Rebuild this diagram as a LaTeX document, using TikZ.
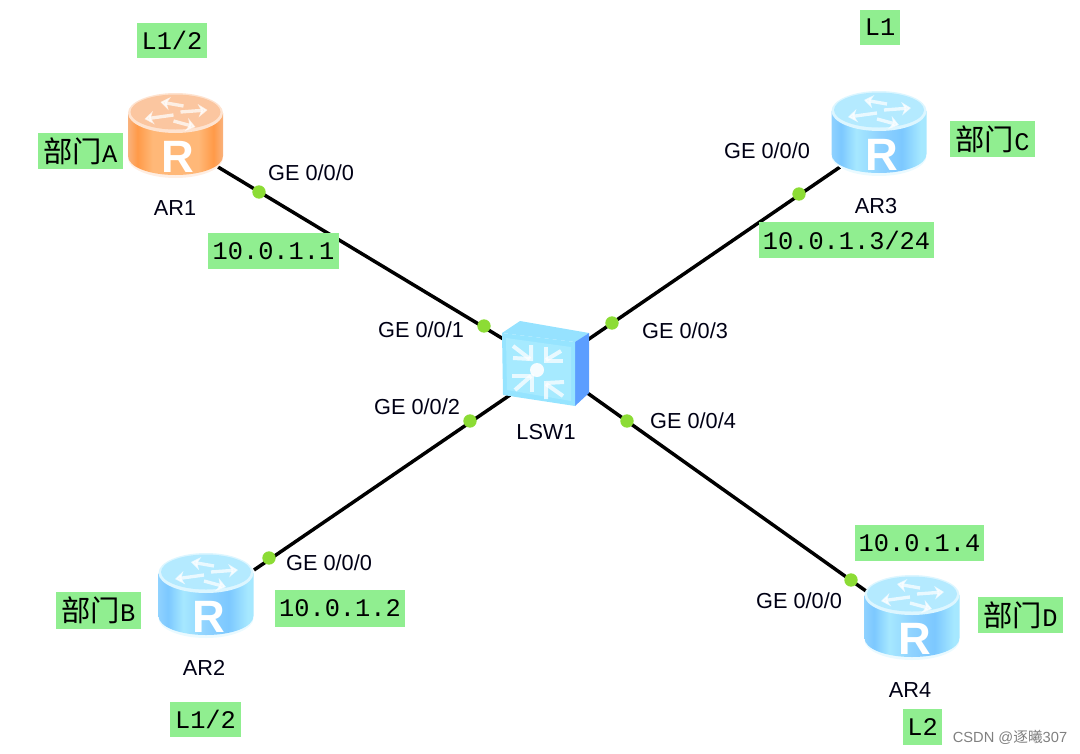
\documentclass[tikz,border=0pt]{standalone}
\usepackage{fontspec}
\setmainfont{Liberation Sans}
\newfontfamily\tagmono{Liberation Mono}
\newfontfamily\cjkfont{Noto Sans CJK SC}
\usetikzlibrary{arrows.meta}
\definecolor{taggreen}{HTML}{90EE90}
\definecolor{dotgreen}{HTML}{8CDC35}
\definecolor{oe}{HTML}{F9B27C}\definecolor{os}{HTML}{FF9A48}\definecolor{om}{HTML}{FFB878}
\definecolor{be}{HTML}{8FD2FF}\definecolor{bs}{HTML}{7CC8FF}\definecolor{bm}{HTML}{A6E8FF}
\definecolor{otop}{HTML}{FBC6A0}\definecolor{orim}{HTML}{FEE3D0}
\definecolor{btop}{HTML}{B4EAFF}\definecolor{brim}{HTML}{DDF6FF}
\definecolor{swtop}{HTML}{96E2FF}\definecolor{swside}{HTML}{5C9EFF}\definecolor{swedge}{HTML}{96E4FF}\definecolor{swface}{HTML}{A6EAFF}
\pgfdeclarehorizontalshading{orside}{100bp}{color(0bp)=(oe);color(25bp)=(oe);color(30bp)=(os);color(38bp)=(om);color(50bp)=(om);color(62bp)=(om);color(70bp)=(os);color(75bp)=(oe);color(100bp)=(oe)}
\pgfdeclarehorizontalshading{blside}{100bp}{color(0bp)=(be);color(25bp)=(be);color(30bp)=(bs);color(38bp)=(bm);color(50bp)=(be);color(62bp)=(bs);color(72bp)=(bm);color(75bp)=(bm);color(100bp)=(bm)}
\tikzset{
  x=0.75pt,y=-0.75pt,
  link/.style={line width=2.6pt,black},
  portdot/.style={circle,fill=dotgreen,inner sep=0pt,minimum size=10pt},
  lab/.style={inner sep=0pt,font=\fontsize{16.3}{18}\selectfont,text=black!92!blue},
  tag/.style 2 args={fill=taggreen,inner sep=0pt,minimum width=#1*0.75pt,minimum height=#2*0.75pt,font=\tagmono\fontsize{19}{21}\selectfont},
  swarrow/.style={line width=3pt,white,opacity=.75,line join=miter},
  rarrow/.style={line width=2.5pt,white,opacity=.72,-{Stealth[length=7pt,width=10pt]}},
  rglyph/.style={inner sep=0pt,text=white,font=\bfseries\fontsize{34}{38}\selectfont}
}
\newcommand{\routericon}[6]{%
  \begin{scope}[shift={(#2,#3)}]
    \fill[#6!60!white] (-47.5,45) .. controls (-47.5,56) and (-26.2,65) .. (0,65)
      .. controls (26.2,65) and (47.5,56) .. (47.5,45) -- cycle;
    \shade[shading=#4] (-47.5,0) -- (-47.5,43) .. controls (-47.5,54) and (-26.2,62) .. (0,62)
      .. controls (26.2,62) and (47.5,54) .. (47.5,43) -- (47.5,0) -- cycle;
    \fill[#6] (0,0) ellipse [x radius=47.5,y radius=20];
    \fill[#5] (0,-1) ellipse [x radius=45,y radius=17.5];
    \draw[rarrow] (8,-7) -- (-15,-11);
    \draw[rarrow] (5,-1) -- (32,-3);
    \draw[rarrow] (-2,2) -- (-31,6);
    \draw[rarrow] (-2,8) -- (20,14);
    \node[rglyph] (#1) at (2.5,44) {R};
  \end{scope}}
\begin{document}
\begin{tikzpicture}
\useasboundingbox (0,0) rectangle (1080,753);
% connector ends
\coordinate (p1) at (218,167);
\coordinate (p2) at (254,570);
\coordinate (p3) at (840,167);
\coordinate (p4) at (866,591);
\coordinate (s1) at (505,340);
\coordinate (s2) at (510,395);
\coordinate (s3) at (586,341);
\coordinate (s4) at (586,392);
\draw[link] (p1) -- (s1);
\draw[link] (p2) -- (s2);
\draw[link] (p3) -- (s3);
\draw[link] (p4) -- (s4);
% routers
\routericon{ar1}{175.5}{113}{orside}{otop}{orim}
\routericon{ar2}{206}{573}{blside}{btop}{brim}
\routericon{ar3}{879}{111}{blside}{btop}{brim}
\routericon{ar4}{912}{595}{blside}{btop}{brim}
% switch
\fill[swtop] (502,333) -- (520,321) -- (589,333) -- (575,342) -- cycle;
\fill[swside] (575,342) -- (589,333) -- (589,393) -- (575,406) -- cycle;
\fill[swedge] (502,333) -- (575,342) -- (575,406) -- (503,395) -- cycle;
\fill[swface] (506,338) -- (571,347) -- (571,401) -- (507,390) -- cycle;
\draw[swarrow] (513,346) -- (530,359);
\draw[swarrow] (513,358) -- (531,359) -- (531,345);
\draw[swarrow] (561,351) -- (546,360);
\draw[swarrow] (546,347) -- (546,361) -- (563,361);
\draw[swarrow] (515,390) -- (531,376);
\draw[swarrow] (512,376) -- (532,376) -- (532,392);
\draw[swarrow] (563,396) -- (546,384);
\draw[swarrow] (546,399) -- (546,383) -- (564,382);
\fill[white,opacity=.9] (537,370) ellipse [x radius=7,y radius=7];
% port dots
\node[portdot] (d1a) at (259,192) {};
\node[portdot] (d1b) at (484,326) {};
\node[portdot] (d2a) at (269,558) {};
\node[portdot] (d2b) at (470,421) {};
\node[portdot] (d3a) at (799,194) {};
\node[portdot] (d3b) at (612,323) {};
\node[portdot] (d4a) at (851,580) {};
\node[portdot] (d4b) at (627,421) {};
% names and port labels
\node[lab] (n1) at (175,208) {AR1};
\node[lab] (n2) at (204,668) {AR2};
\node[lab] (n3) at (876,206) {AR3};
\node[lab] (n4) at (910,690) {AR4};
\node[lab] (n5) at (546,432) {LSW1};
\node[lab] (g1) at (311,173) {GE 0/0/0};
\node[lab] (g2) at (421,330) {GE 0/0/1};
\node[lab] (g3) at (417,407) {GE 0/0/2};
\node[lab] (g4) at (685,331) {GE 0/0/3};
\node[lab] (g5) at (693,421) {GE 0/0/4};
\node[lab] (g6) at (767,151) {GE 0/0/0};
\node[lab] (g7) at (329,563) {GE 0/0/0};
\node[lab] (g8) at (799,601) {GE 0/0/0};
% green tags
\node[tag={70}{35}] (t1) at (172,40.5) {L1/2};
\node[tag={85}{36}] (t2) at (80.5,151) {{\cjkfont\fontsize{22}{24}\selectfont 部门}A};
\node[tag={131}{36}] (t3) at (273.5,251) {10.0.1.1};
\node[tag={40}{35}] (t4) at (880,27.5) {L1};
\node[tag={85}{36}] (t5) at (992.5,139) {{\cjkfont\fontsize{22}{24}\selectfont 部门}C};
\node[tag={175}{36}] (t6) at (846.5,240) {10.0.1.3/24};
\node[tag={85}{37}] (t7) at (98.5,610.5) {{\cjkfont\fontsize{22}{24}\selectfont 部门}B};
\node[tag={130}{37}] (t8) at (340,608.5) {10.0.1.2};
\node[tag={71}{35}] (t9) at (205.5,719.5) {L1/2};
\node[tag={129}{36}] (t10) at (919.5,543) {10.0.1.4};
\node[tag={85}{36}] (t11) at (1020.5,615) {{\cjkfont\fontsize{22}{24}\selectfont 部门}D};
\node[tag={39}{36}] (t12) at (922.5,727) {L2};
% watermark
\node[inner sep=0pt,text=black!50,font=\fontsize{11}{13}\selectfont] (wm) at (1010,737) {CSDN @{\cjkfont 逐曦}307};
\end{tikzpicture}
\end{document}
